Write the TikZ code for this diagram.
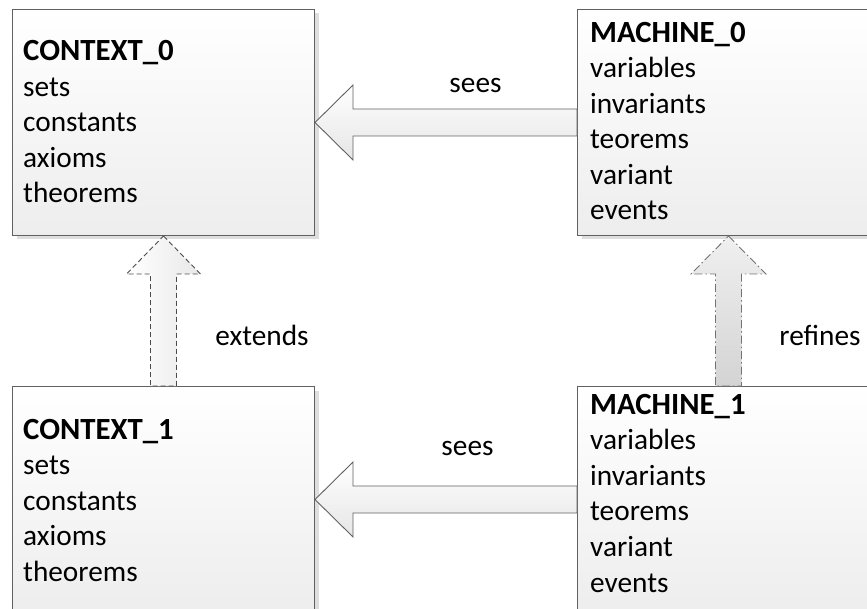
\documentclass[tikz,border=0pt]{standalone}
\usepackage{fontspec}
\setmainfont{Carlito}
\usetikzlibrary{calc,shadows}
\begin{document}
\begin{tikzpicture}[x=1pt,y=-1pt,
  box/.style={draw=black!62, line width=1pt, top color=white, bottom color=black!7,
    minimum width=302pt, minimum height=226pt, anchor=north west, inner sep=0pt,
    drop shadow={shadow xshift=4pt, shadow yshift=-4pt, fill=black!13, opacity=1}},
  item/.style={anchor=base west, inner sep=0pt, font=\fontsize{29.3}{34}\selectfont},
  title/.style={item, font=\fontsize{30.8}{34}\selectfont\bfseries},
  lbl/.style={anchor=base, inner sep=0pt, font=\fontsize{29.3}{34}\selectfont},
  seesarr/.style={draw=black!62, line width=0.9pt, line join=miter,
    top color=white, bottom color=black!10},
  extarr/.style={draw=black!70, line width=0.9pt, dash pattern=on 5pt off 3pt,
    left color=white, right color=black!9},
  refarr/.style={draw=black!55, line width=0.9pt, dash pattern=on 8pt off 3pt on 1.5pt off 3pt,
    top color=black!6, bottom color=black!17}
]
\useasboundingbox (0,0) rectangle (867,609);

% the four component boxes
\node[box] (c0) at (12,9) {};
\node[box] (m0) at (577,9) {};
\node[box] (c1) at (12,386) {};
\node[box] (m1) at (577,386) {};

% box contents
\node[title] (c0t) at (23,61) {CONTEXT\_0};
\foreach \t [count=\i] in {sets,constants,axioms,theorems}
  \node[item] (c0-\i) at (23,61+35.4*\i) {\t};

\node[title] (m0t) at (590,43) {MACHINE\_0};
\foreach \t [count=\i] in {variables,invariants,teorems,variant,events}
  \node[item] (m0-\i) at (590,42.5+35.4*\i) {\t};

\node[title] (c1t) at (23,439) {CONTEXT\_1};
\foreach \t [count=\i] in {sets,constants,axioms,theorems}
  \node[item] (c1-\i) at (23,439+35.5*\i) {\t};

\node[title] (m1t) at (590,414) {MACHINE\_1};
\foreach \t [count=\i] in {variables,invariants,teorems,variant,events}
  \node[item] (m1-\i) at (590,414+35.6*\i) {\t};

% "sees" block arrows
\draw[seesarr] (c0.east) -- ($(c0.east)+(38,-37.5)$) -- ($(c0.east)+(38,-13.5)$)
  -- ($(m0.west)+(0,-13.5)$) -- ($(m0.west)+(0,13.5)$)
  -- ($(c0.east)+(38,13.5)$) -- ($(c0.east)+(38,37.5)$) -- cycle;
\draw[seesarr] (c1.east) -- ($(c1.east)+(38,-37.5)$) -- ($(c1.east)+(38,-13.5)$)
  -- ($(m1.west)+(0,-13.5)$) -- ($(m1.west)+(0,13.5)$)
  -- ($(c1.east)+(38,13.5)$) -- ($(c1.east)+(38,37.5)$) -- cycle;

% "extends" block arrow
\draw[extarr] (c0.south) -- ($(c0.south)+(37,38)$) -- ($(c0.south)+(13,38)$)
  -- ($(c1.north)+(13,0)$) -- ($(c1.north)+(-13,0)$)
  -- ($(c0.south)+(-13,38)$) -- ($(c0.south)+(-37,38)$) -- cycle;

% "refines" block arrow
\draw[refarr] (m0.south) -- ($(m0.south)+(37.5,38)$) -- ($(m0.south)+(13,38)$)
  -- ($(m1.north)+(13,0)$) -- ($(m1.north)+(-13,0)$)
  -- ($(m0.south)+(-13,38)$) -- ($(m0.south)+(-37.5,38)$) -- cycle;

% arrow labels
\node[lbl] (s0) at (475.5,93) {sees};
\node[lbl] (s1) at (467.5,455) {sees};
\node[lbl] (ext) at (262,345) {extends};
\node[lbl] (ref) at (820,345) {refines};
\end{tikzpicture}
\end{document}
